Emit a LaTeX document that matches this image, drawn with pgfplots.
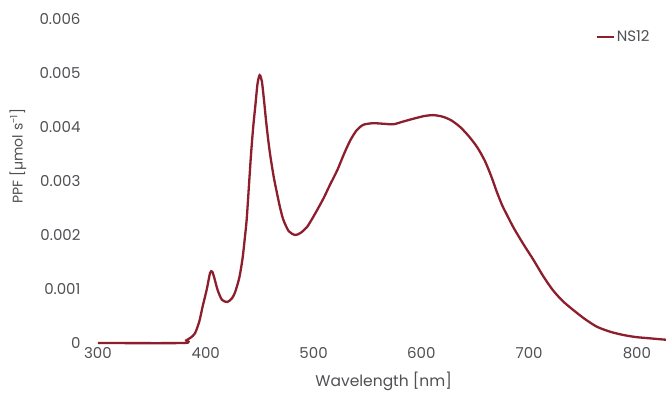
\documentclass[border=0pt]{standalone}
\usepackage{pgfplots}
\pgfplotsset{compat=1.18}
\usepackage{fontspec}
\setmainfont{Poppins}
\definecolor{txt}{RGB}{80,80,85}
\definecolor{line}{RGB}{140,30,45}
\begin{document}
\begin{tikzpicture}[x=1pt,y=1pt]
\useasboundingbox (0,0) rectangle (666,402);
\begin{axis}[
  at={(98pt,59pt)}, anchor=south west,
  scale only axis, width=568pt, height=324pt,
  xmin=300, xmax=827, ymin=0, ymax=0.006,
  axis line style={draw=none},
  tick style={draw=none},
  xtick={300,400,...,800},
  ytick={0,0.001,...,0.006},
  scaled y ticks=false,
  yticklabel style={text=txt, font=\fontsize{15}{17}\selectfont, xshift=-14pt},
  yticklabel={\ifdim\tick pt=0pt 0\else\pgfmathprintnumber[fixed,fixed zerofill,precision=3]{\tick}\fi},
  xticklabel style={text=txt, font=\fontsize{15}{17}\selectfont, yshift=-1pt},
  /pgf/number format/assume math mode=true,
  xlabel={Wavelength [nm]},
  ylabel={PPF [µmol s\textsuperscript{-1}]},
  xlabel style={text=txt, font=\fontsize{15.5}{17}\selectfont, at={(axis description cs:0.503,-0.117)}, anchor=center},
  ylabel style={text=txt, font=\fontsize{14}{16}\selectfont, at={(axis description cs:-0.141,0.577)}, anchor=center, rotate=0},
  legend style={draw=none, fill=none, at={(axis description cs:0.975,0.944)}, anchor=east, font=\fontsize{15}{17}\selectfont, text=txt, inner sep=0pt, legend cell align=left},
  legend image code/.code={\draw[#1, line width=2.4pt] (0pt,0pt) -- (17pt,0pt);},
  clip=false,
]
\addplot[line, line width=2.3pt, smooth, tension=0.45] coordinates {
(300,0) (379,0) (382,0.00005) (386,0.0001) (390,0.00018) (394,0.0004) (397,0.00067)
(401,0.001) (404,0.0013) (406,0.00132) (408,0.0012) (411,0.00098) (415,0.0008)
(420,0.00076) (424,0.00082) (427,0.00093) (431,0.0012) (434,0.00155) (436,0.0019)
(438,0.0023) (440,0.0029) (442,0.0035) (444,0.004) (446,0.0044) (448,0.0048) (450,0.00496)
(452,0.00485) (454,0.0045) (456,0.0041) (458,0.00375) (460,0.00345) (463,0.00308)
(466,0.00278) (469,0.0025) (472,0.00228) (477,0.00207) (483,0.0020) (488,0.00204)
(494,0.00215) (501,0.00238) (509,0.00267) (515,0.00292) (522,0.0032) (528,0.00349)
(534,0.00375) (540,0.00394) (546,0.00404) (555,0.00407) (565,0.00406) (574,0.00405)
(583,0.0041) (592,0.00415) (602,0.0042) (611,0.00422) (620,0.00419) (628,0.00412)
(636,0.004) (644,0.00383) (652,0.00362) (659,0.00337) (665,0.00308) (670,0.0028)
(675,0.00255) (680,0.00235) (686,0.00212) (695,0.00182) (704,0.00154) (713,0.00124)
(722,0.00098) (731,0.00078) (741,0.00061) (752,0.00044) (763,0.0003) (775,0.00021)
(787,0.00015) (799,0.00011) (810,0.00009) (827,0.00006)
};
\addlegendentry{NS12}
\end{axis}
\end{tikzpicture}
\end{document}
